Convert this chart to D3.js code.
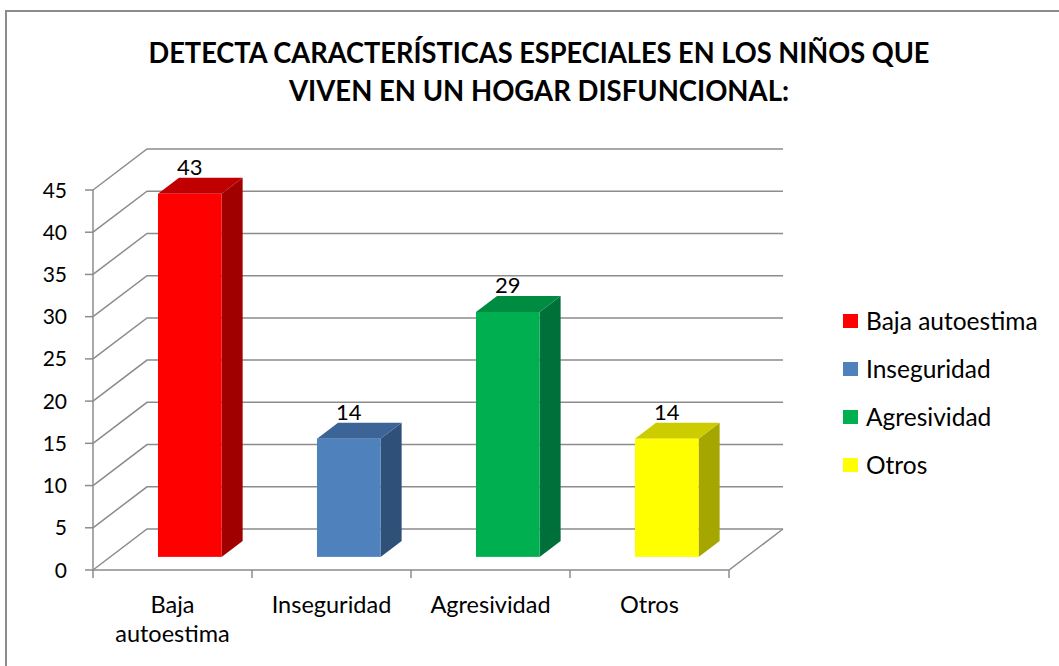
<!DOCTYPE html>
<html>
<head>
<meta charset="utf-8">
<script src="https://cdn.jsdelivr.net/npm/d3@7"></script>
<style>
  body { margin: 0; background: #fff; }
  svg text { font-family: Lato, "Open Sans", sans-serif; fill: #000; }
</style>
</head>
<body>
<div id="chart"></div>
<script>
(function(d3) {
  'use strict';

  var categories = ['Baja autoestima', 'Inseguridad', 'Agresividad', 'Otros'];
  var values = [43, 14, 29, 14];
  var tickValues = [0, 5, 10, 15, 20, 25, 30, 35, 40, 45];
  var titleLines = ['DETECTA CARACTERÍSTICAS ESPECIALES EN LOS NIÑOS QUE',
                    'VIVEN EN UN HOGAR DISFUNCIONAL:'];
  var frontColors = ['#ff0000', '#4f81bd', '#00b050', '#ffff00'];
  var topColors   = ['#c00000', '#3c6496', '#008c40', '#cccc00'];
  var sideColors  = ['#a00000', '#2f5079', '#00703a', '#a6a600'];

  var width = 1059, height = 666;

  // 3D box: the back wall sits dx,dy behind the front plane
  var dx = 54, dy = -41;
  var barZ0 = 0.32, barZ1 = 0.71;

  var svg = d3.select('#chart').append('svg')
    .attr('width', width)
    .attr('height', height);

  // chart frame
  svg.append('rect')
    .attr('x', 6).attr('y', 11)
    .attr('width', 1100).attr('height', 700)
    .attr('fill', '#fff')
    .attr('stroke', '#8c8c8c')
    .attr('stroke-width', 2);

  var x = d3.scaleBand()
    .domain(categories)
    .range([93, 729])
    .paddingInner(0).paddingOuter(0);

  var y = d3.scaleLinear()
    .domain([0, 45])
    .range([570, 190]);

  var gridColor = '#8c8c8c';

  // gridlines: side wall diagonals + back wall
  var grid = svg.append('g').attr('fill', 'none')
    .attr('stroke', gridColor).attr('stroke-width', 1.5);

  grid.selectAll('polyline.grid')
    .data(tickValues)
    .enter().append('polyline')
    .attr('class', 'grid')
    .attr('points', function(t) {
      var x0 = x.range()[0], x1 = x.range()[1];
      return [[x0, y(t)], [x0 + dx, y(t) + dy], [x1 + dx, y(t) + dy]].join(' ');
    });

  // floor front edge and right diagonal
  grid.append('polyline')
    .attr('points', [[x.range()[0], y(0)], [x.range()[1], y(0)],
                     [x.range()[1] + dx, y(0) + dy]].join(' '));

  // vertical axis line
  grid.append('line')
    .attr('x1', x.range()[0]).attr('x2', x.range()[0])
    .attr('y1', y(0) + 1).attr('y2', y(45));

  // y ticks
  grid.selectAll('line.ytick')
    .data(tickValues)
    .enter().append('line')
    .attr('class', 'ytick')
    .attr('x1', x.range()[0] - 8).attr('x2', x.range()[0])
    .attr('y1', y).attr('y2', y);

  // x ticks at band boundaries
  var xTickPos = categories.map(function(c) { return x(c); }).concat([x.range()[1]]);
  grid.selectAll('line.xtick')
    .data(xTickPos)
    .enter().append('line')
    .attr('class', 'xtick')
    .attr('x1', function(d) { return d; }).attr('x2', function(d) { return d; })
    .attr('y1', y(0)).attr('y2', y(0) + 8);

  // y labels
  svg.selectAll('text.ylab')
    .data(tickValues)
    .enter().append('text')
    .attr('class', 'ylab')
    .attr('x', 67)
    .attr('y', function(t) { return y(t) + 7.5; })
    .attr('text-anchor', 'end')
    .style('font-size', '21px')
    .text(function(t) { return t; });

  // bars
  var data = categories.map(function(c, i) { return { cat: c, value: values[i], i: i }; });
  var bw = x.bandwidth() * 0.4;

  function geom(d) {
    var ox = dx * barZ0, oy = dy * barZ0;
    var ddx = dx * (barZ1 - barZ0), ddy = dy * (barZ1 - barZ0);
    var left = x(d.cat) + ox + (x.bandwidth() - bw) / 2;
    var right = left + bw;
    var bottom = y(0) + oy;
    var top = y(d.value) + oy;
    return { left: left, right: right, bottom: bottom, top: top, ddx: ddx, ddy: ddy };
  }

  var bars = svg.selectAll('g.bar')
    .data(data)
    .enter().append('g')
    .attr('class', 'bar');

  bars.append('polygon')
    .attr('fill', function(d) { return sideColors[d.i]; })
    .attr('points', function(d) {
      var g = geom(d);
      return [[g.right, g.bottom], [g.right + g.ddx, g.bottom + g.ddy],
              [g.right + g.ddx, g.top + g.ddy], [g.right, g.top]].join(' ');
    });

  bars.append('polygon')
    .attr('fill', function(d) { return topColors[d.i]; })
    .attr('points', function(d) {
      var g = geom(d);
      return [[g.left, g.top], [g.left + g.ddx, g.top + g.ddy],
              [g.right + g.ddx, g.top + g.ddy], [g.right, g.top]].join(' ');
    });

  bars.append('rect')
    .attr('fill', function(d) { return frontColors[d.i]; })
    .attr('x', function(d) { return geom(d).left; })
    .attr('y', function(d) { return geom(d).top; })
    .attr('width', bw)
    .attr('height', function(d) { var g = geom(d); return g.bottom - g.top; });

  // value labels
  bars.append('text')
    .attr('x', function(d) { var g = geom(d); return (g.left + g.right) / 2; })
    .attr('y', function(d) { var g = geom(d); return g.top + g.ddy - 3; })
    .attr('text-anchor', 'middle')
    .style('font-size', '22px')
    .text(function(d) { return d.value; });

  // category labels (wrapped like the original)
  var catLines = {
    'Baja autoestima': ['Baja', 'autoestima']
  };
  svg.selectAll('text.xlab')
    .data(categories)
    .enter().append('text')
    .attr('class', 'xlab')
    .attr('text-anchor', 'middle')
    .style('font-size', '23.5px')
    .each(function(c) {
      var lines = catLines[c] || [c];
      var t = d3.select(this);
      lines.forEach(function(l, k) {
        t.append('tspan')
          .attr('x', x(c) + x.bandwidth() / 2)
          .attr('y', 613 + k * 29)
          .text(l);
      });
    });

  // title
  var titleWidths = [781, 500];
  svg.selectAll('text.title')
    .data(titleLines)
    .enter().append('text')
    .attr('class', 'title')
    .attr('x', 539)
    .attr('y', function(d, i) { return 63 + i * 38; })
    .attr('text-anchor', 'middle')
    .attr('textLength', function(d, i) { return titleWidths[i]; })
    .attr('lengthAdjust', 'spacingAndGlyphs')
    .style('font-size', '28px')
    .style('font-weight', 'bold')
    .text(function(d) { return d; });

  // legend
  var legend = svg.selectAll('g.legend')
    .data(categories)
    .enter().append('g')
    .attr('class', 'legend')
    .attr('transform', function(d, i) { return 'translate(843,' + (321 + i * 48) + ')'; });

  legend.append('rect')
    .attr('x', 0).attr('y', -7)
    .attr('width', 15).attr('height', 14)
    .attr('fill', function(d, i) { return frontColors[i]; });

  legend.append('text')
    .attr('x', 23).attr('y', 8.5)
    .style('font-size', '24.5px')
    .text(function(d) { return d; });

})(window.d3);
</script>
</body>
</html>
